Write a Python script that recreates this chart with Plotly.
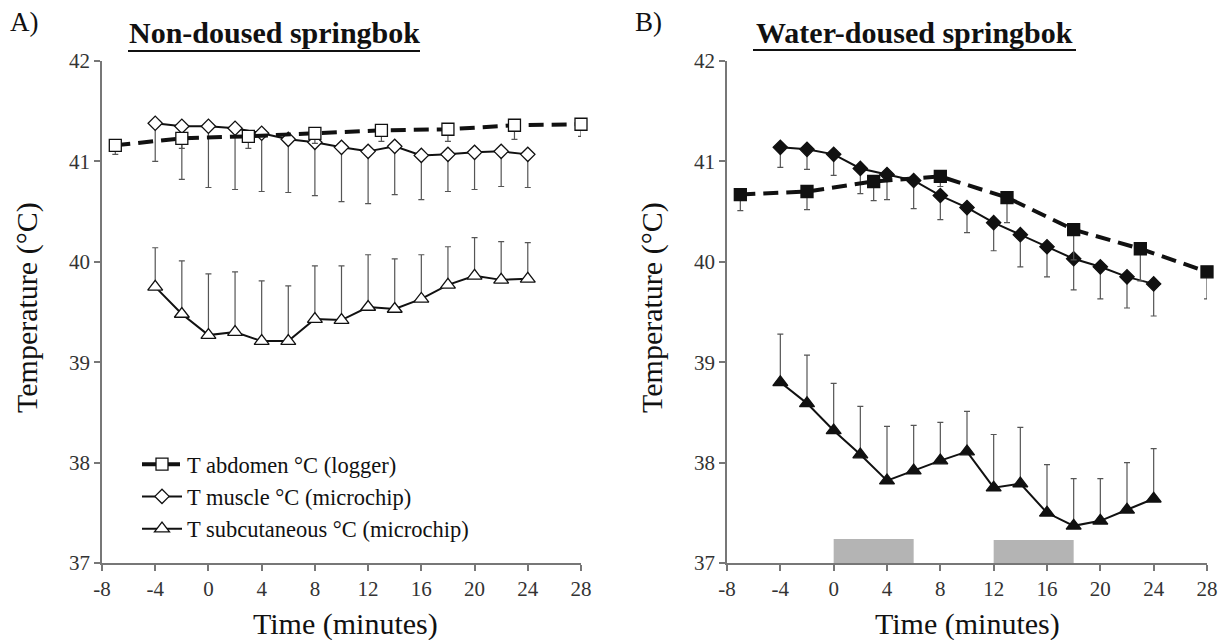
import plotly.graph_objects as go

# ---------------- data ----------------
x_abd = [-7, -2, 3, 8, 13, 18, 23, 28]
x_chip = [-4, -2, 0, 2, 4, 6, 8, 10, 12, 14, 16, 18, 20, 22, 24]

# Panel A: non-doused
a_abd = [41.16, 41.23, 41.25, 41.28, 41.31, 41.32, 41.36, 41.37]
a_abd_sd = [0.09, 0.10, 0.12, 0.10, 0.11, 0.12, 0.14, 0.12]
a_mus = [41.38, 41.35, 41.35, 41.33, 41.28, 41.22, 41.19, 41.14, 41.10, 41.15, 41.06, 41.07, 41.09, 41.10, 41.07]
a_mus_low = [41.00, 40.82, 40.74, 40.72, 40.70, 40.69, 40.66, 40.60, 40.58, 40.67, 40.62, 40.70, 40.72, 40.75, 40.74]
a_sub = [39.75, 39.48, 39.27, 39.30, 39.21, 39.21, 39.43, 39.42, 39.55, 39.53, 39.63, 39.77, 39.86, 39.82, 39.83]
a_sub_high = [40.14, 40.01, 39.88, 39.90, 39.81, 39.76, 39.96, 39.96, 40.07, 40.03, 40.07, 40.15, 40.24, 40.20, 40.19]

# Panel B: water-doused
b_abd = [40.67, 40.70, 40.80, 40.85, 40.64, 40.32, 40.13, 39.90]
b_abd_sd = [0.16, 0.18, 0.19, 0.10, 0.25, 0.30, 0.32, 0.27]
b_mus = [41.14, 41.12, 41.07, 40.93, 40.87, 40.81, 40.66, 40.54, 40.39, 40.27, 40.15, 40.03, 39.95, 39.85, 39.78]
b_mus_low = [40.94, 40.92, 40.86, 40.68, 40.62, 40.53, 40.42, 40.29, 40.11, 39.95, 39.85, 39.72, 39.63, 39.54, 39.46]
b_sub = [38.80, 38.59, 38.32, 38.08, 37.82, 37.92, 38.02, 38.11, 37.75, 37.79, 37.50, 37.37, 37.42, 37.53, 37.64]
b_sub_high = [39.28, 39.07, 38.79, 38.56, 38.36, 38.37, 38.40, 38.51, 38.28, 38.35, 37.98, 37.84, 37.84, 38.00, 38.14]

# dousing periods (start, end, bar height top)
douse_start = [0, 12]
douse_end = [6, 18]
douse_top = [37.24, 37.23]

names = ["T abdomen °C (logger)", "T muscle °C (microchip)", "T subcutaneous °C (microchip)"]

FONT = "Liberation Serif, Times New Roman, serif"
BLACK = "#111111"
ERR = "#555555"

fig = go.Figure()

def err_down(vals, low):
    return dict(type="data", symmetric=False, array=[0] * len(vals),
                arrayminus=[v - l for v, l in zip(vals, low)],
                color=ERR, thickness=1.2, width=3)

def err_up(vals, high):
    return dict(type="data", symmetric=False, array=[h - v for v, h in zip(vals, high)],
                arrayminus=[0] * len(vals), color=ERR, thickness=1.2, width=3)

def add_panel(xa, ya, abd, abd_sd, mus, mus_low, sub, sub_high, filled, show):
    fill = BLACK if filled else "white"
    fig.add_trace(go.Scatter(
        x=x_chip, y=sub, xaxis=xa, yaxis=ya, mode="lines+markers",
        name=names[2], legendgroup="c", showlegend=show, cliponaxis=False,
        line=dict(color=BLACK, width=2),
        marker=dict(symbol="triangle-up", size=13, color=fill, line=dict(color=BLACK, width=1.3)),
        error_y=err_up(sub, sub_high)))
    fig.add_trace(go.Scatter(
        x=x_chip, y=mus, xaxis=xa, yaxis=ya, mode="lines+markers",
        name=names[1], legendgroup="b", showlegend=show, cliponaxis=False,
        line=dict(color=BLACK, width=2),
        marker=dict(symbol="diamond", size=11, color=fill, line=dict(color=BLACK, width=1.3)),
        error_y=err_down(mus, mus_low)))
    fig.add_trace(go.Scatter(
        x=x_abd, y=abd, xaxis=xa, yaxis=ya, mode="lines+markers",
        name=names[0], legendgroup="a", showlegend=show, cliponaxis=False,
        line=dict(color=BLACK, width=4, dash="15px,8px"),
        marker=dict(symbol="square", size=12, color=fill, line=dict(color=BLACK, width=1.3)),
        error_y=dict(type="data", symmetric=False, array=[0] * len(abd), arrayminus=abd_sd,
                     color=ERR, thickness=1.2, width=3)))

# grey dousing bars in panel B
fig.add_trace(go.Bar(
    x=[(s + e) / 2 for s, e in zip(douse_start, douse_end)],
    y=[t - 37 for t in douse_top], base=37,
    width=[e - s for s, e in zip(douse_start, douse_end)],
    xaxis="x2", yaxis="y2", marker=dict(color="#b4b4b4", line=dict(width=0)),
    showlegend=False, hoverinfo="skip"))

add_panel("x", "y", a_abd, a_abd_sd, a_mus, a_mus_low, a_sub, a_sub_high, False, True)
add_panel("x2", "y2", b_abd, b_abd_sd, b_mus, b_mus_low, b_sub, b_sub_high, True, False)

W, H = 1228, 640
def px_x(p): return p / W
def px_y(p): return (H - p) / H

xax = dict(range=[-8, 28], tickmode="array", tickvals=[-8, -4, 0, 4, 8, 12, 16, 20, 24, 28],
           ticktext=["-8", "-4", "0", "4", "8", "12", "16", "20", "24", "28"],
           showgrid=False, zeroline=False, showline=True, linecolor="#777777", linewidth=1.5,
           ticks="outside", ticklen=6, tickcolor="#777777", tickwidth=1.5, automargin=False,
           tickfont=dict(family=FONT, size=21, color="#333333"), fixedrange=True)
yax = dict(range=[37, 42], tickmode="array", tickvals=[37, 38, 39, 40, 41, 42],
           ticktext=["37", "38", "39", "40", "41", "42"],
           showgrid=False, zeroline=False, showline=True, linecolor="#777777", linewidth=1.5,
           ticks="outside", ticklen=6, tickcolor="#777777", tickwidth=1.5, automargin=False,
           tickfont=dict(family=FONT, size=21, color="#333333"), fixedrange=True)

fig.update_layout(
    template=go.layout.Template(),
    width=W, height=H, autosize=False, margin=dict(l=0, r=0, t=0, b=0, pad=0),
    paper_bgcolor="white", plot_bgcolor="white",
    font=dict(family=FONT, color=BLACK),
    barmode="overlay",
    xaxis=dict(xax, domain=[px_x(102), px_x(581)], anchor="y"),
    yaxis=dict(yax, domain=[px_y(563), px_y(61)], anchor="x"),
    xaxis2=dict(xax, domain=[px_x(727), px_x(1207)], anchor="y2"),
    yaxis2=dict(yax, domain=[px_y(563), px_y(61)], anchor="x2"),
    legend=dict(x=px_x(137), y=px_y(443), xanchor="left", yanchor="top",
                font=dict(family=FONT, size=22.5, color=BLACK), bgcolor="rgba(0,0,0,0)",
                traceorder="reversed", itemwidth=40, tracegroupgap=0),
)

ann = []
ann.append(dict(text="A)", x=px_x(8), y=px_y(22), xref="paper", yref="paper", showarrow=False,
                xanchor="left", yanchor="middle", font=dict(family=FONT, size=27, color=BLACK)))
ann.append(dict(text="B)", x=px_x(633), y=px_y(22), xref="paper", yref="paper", showarrow=False,
                xanchor="left", yanchor="middle", font=dict(family=FONT, size=27, color=BLACK)))
ann.append(dict(text="<b>Non-doused springbok</b>", x=px_x(274), y=px_y(33), xref="paper", yref="paper",
                showarrow=False, xanchor="center", yanchor="middle", font=dict(family=FONT, size=30, color=BLACK)))
ann.append(dict(text="<b>Water-doused springbok</b>", x=px_x(914), y=px_y(33), xref="paper", yref="paper",
                showarrow=False, xanchor="center", yanchor="middle", font=dict(family=FONT, size=30, color=BLACK)))
for cx in (27, 652):
    ann.append(dict(text="Temperature (°C)", x=px_x(cx), y=px_y(308), xref="paper", yref="paper",
                    showarrow=False, textangle=-90, xanchor="center", yanchor="middle",
                    font=dict(family=FONT, size=30, color=BLACK)))
for cx in (345, 967):
    ann.append(dict(text="Time (minutes)", x=px_x(cx), y=px_y(624), xref="paper", yref="paper",
                    showarrow=False, xanchor="center", yanchor="middle",
                    font=dict(family=FONT, size=30, color=BLACK)))
fig.update_layout(annotations=ann)

fig.add_shape(type="line", xref="paper", yref="paper", x0=px_x(128), x1=px_x(420), y0=px_y(51), y1=px_y(51),
              line=dict(color=BLACK, width=2))
fig.add_shape(type="line", xref="paper", yref="paper", x0=px_x(753), x1=px_x(1076), y0=px_y(50), y1=px_y(50),
              line=dict(color=BLACK, width=2))

fig.write_html("out.html")
